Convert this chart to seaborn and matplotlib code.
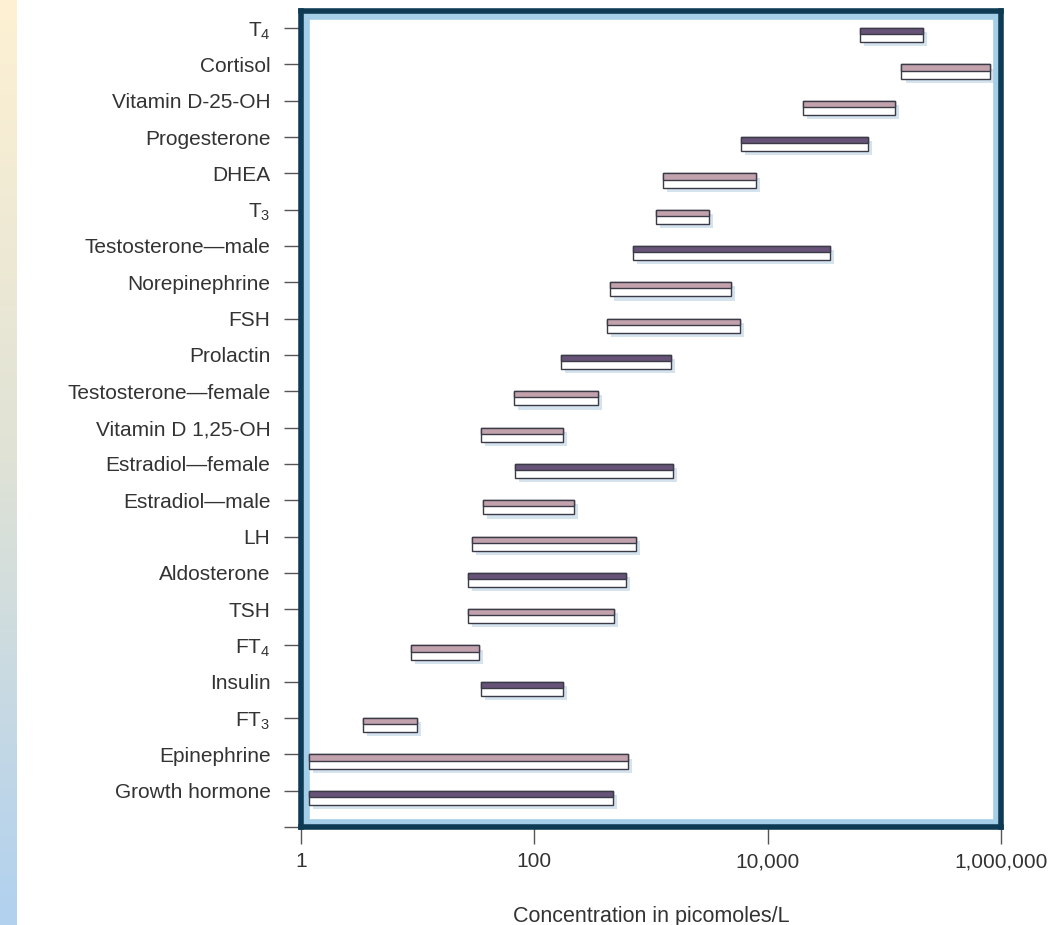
import numpy as np
import pandas as pd
import matplotlib
matplotlib.use('Agg')
from matplotlib import pyplot as plt
from matplotlib import patheffects as pe
from matplotlib.colors import LinearSegmentedColormap
from matplotlib.patches import Rectangle
from matplotlib.ticker import NullLocator
import seaborn as sns

# faixas de referencia (picomoles/L)
hormonios = ['T$_\\mathregular{4}$', 'Cortisol', 'Vitamin D-25-OH', 'Progesterone', 'DHEA',
             'T$_\\mathregular{3}$', 'Testosterone—male', 'Norepinephrine', 'FSH', 'Prolactin',
             'Testosterone—female', 'Vitamin D 1,25-OH', 'Estradiol—female', 'Estradiol—male',
             'LH', 'Aldosterone', 'TSH', 'FT$_\\mathregular{4}$', 'Insulin',
             'FT$_\\mathregular{3}$', 'Epinephrine', 'Growth hormone']
minimo = [62000, 140000, 20000, 5900, 1270, 1100, 700, 445, 420, 169, 67, 35,
          68, 36, 29, 27, 27, 8.8, 35, 3.4, 1.17, 1.17]
maximo = [214000, 800000, 123000, 72000, 7900, 3150, 34000, 4850, 5800, 1480, 350, 176,
          1550, 220, 740, 610, 480, 33.6, 176, 9.9, 635, 472]
tom = ['escuro', 'claro', 'claro', 'escuro', 'claro', 'claro', 'escuro', 'claro', 'claro',
       'escuro', 'claro', 'claro', 'escuro', 'claro', 'claro', 'escuro', 'claro', 'claro',
       'escuro', 'claro', 'claro', 'escuro']
cores = {'escuro': '#665377', 'claro': '#c2a3ad'}

marcas_x = [1, 100, 10000, 1000000]
rotulos_x = ['1', '100', '10,000', '1,000,000']

sns.set_style('ticks')
plt.rcParams['font.family'] = ['Liberation Sans', 'DejaVu Sans']

faixas = pd.DataFrame({'hormonio': hormonios, 'minimo': minimo, 'maximo': maximo, 'tom': tom})
faixas['largura'] = faixas.maximo - faixas.minimo

fig = plt.figure(figsize=(10.54, 9.25), dpi=100)
ax = fig.add_axes([0.2856, 0.1059, 0.6641, 0.8822])
ax.set_xscale('log')
ax.set_xlim(1, 1e6)

# barra inteira (branca, com sombra)
sns.barplot(data=faixas, x='largura', y='hormonio', left=faixas.minimo.to_numpy(),
            width=0.39, color='white', saturation=1, edgecolor='#3b3b48', linewidth=1.0,
            errorbar=None, ax=ax, zorder=3)
for barra in ax.patches:
    barra.set_y(barra.get_y() + 0.195)
    barra.set_path_effects([pe.SimplePatchShadow(offset=(3, -3), shadow_rgbFace='#b4cde0', alpha=0.55),
                            pe.Normal()])

# faixa colorida na metade de cima
ax.barh(np.arange(len(hormonios)), faixas.largura, height=0.17, left=faixas.minimo, align='edge',
        color=[cores[t] for t in faixas.tom], edgecolor='#3b3b48', linewidth=1.0, zorder=4)

ax.set_ylim(22, -0.47)
ax.set_yticks(range(len(hormonios) + 1))
ax.set_yticklabels(hormonios + [''])
ax.set_xticks(marcas_x)
ax.set_xticklabels(rotulos_x)
ax.xaxis.set_minor_locator(NullLocator())
ax.tick_params(axis='both', length=12, width=1, color='#555555', labelsize=15, labelcolor='#333333')
ax.tick_params(axis='y', pad=10)
ax.tick_params(axis='x', pad=6)
ax.set_ylabel('')
ax.set_xlabel('Concentration in picomoles/L', fontsize=15.5, color='#333333', labelpad=25)

for lado in ax.spines.values():
    lado.set_color('#0e3b53')
    lado.set_linewidth(4)
    lado.set_zorder(5)
ax.add_patch(Rectangle((0, 0), 1, 1, transform=ax.transAxes, fill=False,
                       edgecolor='#a5cfe8', linewidth=12, zorder=1.5))

# faixa degrade na esquerda
gax = fig.add_axes([0, 0, 17 / 1054, 1])
gax.imshow(np.linspace(0, 1, 256).reshape(-1, 1), aspect='auto',
           cmap=LinearSegmentedColormap.from_list('degrade', ['#fef1d3', '#dfe2d6', '#b1d1ef']))
gax.axis('off')

fig.savefig('out.png', dpi=100)
